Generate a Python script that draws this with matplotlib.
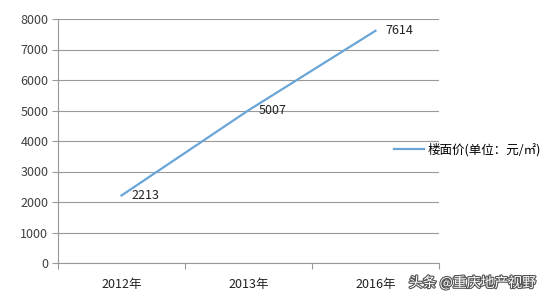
import matplotlib
matplotlib.use('Agg')
import matplotlib.pyplot as plt
import matplotlib.patheffects as pe
from matplotlib.ticker import FixedLocator, NullFormatter

plt.rcParams['font.family'] = ['Noto Sans CJK SC', 'DejaVu Sans']

years = ['2012年', '2013年', '2016年']
prices = [2213, 5007, 7614]
series_name = '楼面价(单位：元/㎡)'
watermark = '头条 @重庆地产视野'

W, H = 543, 300
fig = plt.figure(figsize=(W / 100, H / 100), dpi=100)
ax = fig.add_axes([58 / W, 1 - 263 / H, (439 - 58) / W, (263 - 19) / H])

x = list(range(len(years)))
line, = ax.plot(x, prices, color='#6aa5d8', lw=1.6, label=series_name)
for xi, v in zip(x, prices):
    ax.annotate(str(v), (xi, v), xytext=(7.5, 0), textcoords='offset points',
                va='center', ha='left', fontsize=9, color='#222222')

ax.set_xlim(-0.5, len(years) - 0.5)
ax.set_ylim(0, 8000)
ax.set_yticks(range(0, 8001, 1000))
ax.tick_params(axis='y', labelsize=9, labelcolor='#404040', color='#999999',
               length=4, width=0.8, pad=3)
ax.yaxis.grid(True, color='#999999', lw=0.8)
ax.set_axisbelow(True)

# category labels centered, tick marks between categories
ax.xaxis.set_major_locator(FixedLocator([-0.5, 0.5, 1.5, 2.5]))
ax.xaxis.set_major_formatter(NullFormatter())
ax.xaxis.set_minor_locator(FixedLocator(x))
ax.set_xticklabels(years, minor=True)
ax.tick_params(axis='x', which='major', color='#999999', length=4, width=0.8)
ax.tick_params(axis='x', which='minor', length=0, labelsize=9,
               labelcolor='#222222', pad=11)

for s in ['top', 'right']:
    ax.spines[s].set_visible(False)
for s in ['left', 'bottom']:
    ax.spines[s].set_color('#999999')
    ax.spines[s].set_linewidth(0.8)

fig.legend(handles=[line], loc='center left', bbox_to_anchor=(389 / W, 1 - 150 / H),
           frameon=False, fontsize=9, handlelength=2.4, handletextpad=0.3,
           borderaxespad=0)

fig.text(536 / W, 1 - 283 / H, watermark, ha='right', va='center', fontsize=10,
         color='white',
         path_effects=[pe.withStroke(linewidth=1.6, foreground='#555555')])

fig.savefig('out.png', dpi=100)
